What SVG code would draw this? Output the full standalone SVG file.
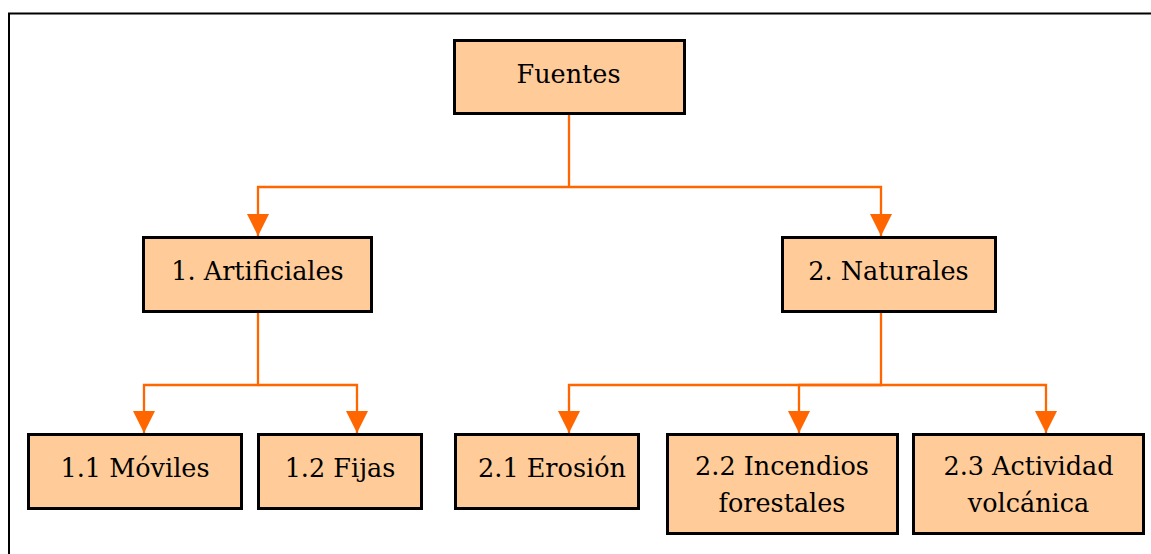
<svg xmlns="http://www.w3.org/2000/svg" width="1151" height="554" viewBox="0 0 1151 554">
<style>
.box{fill:#FFCC99;stroke:#000;stroke-width:3}
.lbl{font-family:'DejaVu Serif',serif;font-size:25.5px;fill:#000;text-anchor:middle}
.con{fill:none;stroke:#FF6600;stroke-width:2.3}
.frame{fill:none;stroke:#000;stroke-width:2}
</style>
<defs>
<marker id="arr" markerUnits="userSpaceOnUse" markerWidth="22" markerHeight="22" refX="22" refY="11" orient="auto" viewBox="0 0 22 22">
<path d="M0,0 L22,11 L0,22 z" fill="#FF6600"/>
</marker>
</defs>
<rect width="1151" height="554" fill="#fff"/>
<path class="frame" d="M9,554 V13.5 H1151"/>
<g id="connectors">
<path class="con" d="M569,115 V187"/>
<path class="con" d="M569,187 H258 V236" marker-end="url(#arr)"/>
<path class="con" d="M569,187 H881 V236" marker-end="url(#arr)"/>
<path class="con" d="M258,313 V385 H144 V433" marker-end="url(#arr)"/>
<path class="con" d="M258,385 H357 V433" marker-end="url(#arr)"/>
<path class="con" d="M881,313 V385 H569 V433" marker-end="url(#arr)"/>
<path class="con" d="M881,385 H799 V433" marker-end="url(#arr)"/>
<path class="con" d="M881,385 H1046 V433" marker-end="url(#arr)"/>
</g>
<g id="fuentes">
<rect class="box" x="454.5" y="40.5" width="230" height="73"/>
<text class="lbl" x="568.5" y="83">Fuentes</text>
</g>
<g id="artificiales">
<rect class="box" x="143.5" y="237.5" width="228" height="74"/>
<text class="lbl" x="257.5" y="280">1. Artificiales</text>
</g>
<g id="naturales">
<rect class="box" x="782.5" y="237.5" width="213" height="74"/>
<text class="lbl" x="888.5" y="280">2. Naturales</text>
</g>
<g id="moviles">
<rect class="box" x="28.5" y="434.5" width="213" height="74"/>
<text class="lbl" x="135" y="477">1.1 Móviles</text>
</g>
<g id="fijas">
<rect class="box" x="258.5" y="434.5" width="163" height="74"/>
<text class="lbl" x="340" y="477">1.2 Fijas</text>
</g>
<g id="erosion">
<rect class="box" x="455.5" y="434.5" width="183" height="74"/>
<text class="lbl" x="552" y="477">2.1 Erosión</text>
</g>
<g id="incendios">
<rect class="box" x="667.5" y="434.5" width="230" height="99"/>
<text class="lbl" x="782" y="475">2.2 Incendios</text>
<text class="lbl" x="782" y="512">forestales</text>
</g>
<g id="actividad">
<rect class="box" x="913.5" y="434.5" width="230" height="99"/>
<text class="lbl" x="1028.5" y="475">2.3 Actividad</text>
<text class="lbl" x="1028.5" y="512">volcánica</text>
</g>
</svg>
